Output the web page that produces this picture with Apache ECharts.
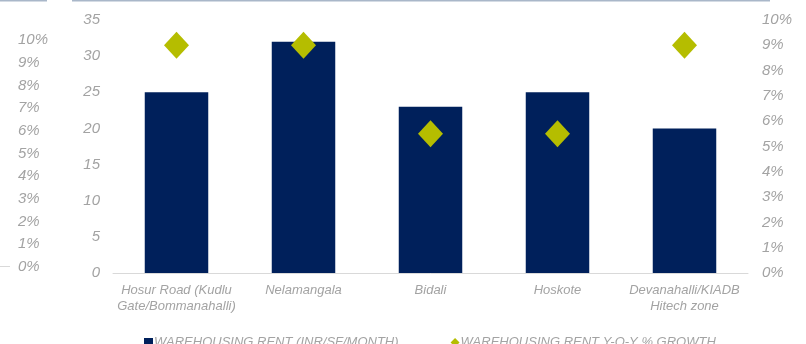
<!DOCTYPE html>
<html><head><meta charset="utf-8">
<script src="https://cdn.jsdelivr.net/npm/echarts@6/dist/echarts.min.js"></script>
<style>html,body{margin:0;padding:0;background:#fff}#c{width:806px;height:344px}</style>
</head><body><div id="c"></div>
<script>
var categories = ['Hosur Road (Kudlu\nGate/Bommanahalli)', 'Nelamangala', 'Bidali', 'Hoskote', 'Devanahalli/KIADB\nHitech zone'];
var rentValues = [25, 32, 23, 25, 20];
var growthValues = [9, 9, 5.5, 5.5, 9];
var rentName = 'WAREHOUSING RENT (INR/SF/MONTH)';
var growthName = 'WAREHOUSING RENT Y-O-Y % GROWTH';

var grey = '#a3a3a3';
var font = '"Liberation Sans"';
var chart = echarts.init(document.getElementById('c'));
chart.setOption({
  animation: false,
  grid: [
    {left: 113, right: 58, top: 20, bottom: 71},
    {left: 18, width: 2, top: 40, bottom: 77}
  ],
  graphic: [
    {type: 'line', shape: {x1: 0, y1: 0.5, x2: 47, y2: 0.5}, style: {stroke: '#a9b7c9', lineWidth: 2}},
    {type: 'line', shape: {x1: 72, y1: 0.5, x2: 770, y2: 0.5}, style: {stroke: '#a9b7c9', lineWidth: 2}},
    {type: 'line', shape: {x1: 0, y1: 266.5, x2: 10, y2: 266.5}, style: {stroke: '#d9d9d9', lineWidth: 1}}
  ],
  xAxis: [
    {type: 'category', gridIndex: 0, data: categories,
     axisLine: {show: true, lineStyle: {color: '#d9d9d9', width: 1}},
     axisTick: {show: false},
     axisLabel: {color: grey, fontStyle: 'italic', fontFamily: font, fontSize: 13, margin: 9, lineHeight: 16, interval: 0}},
    {type: 'category', gridIndex: 1, data: [''], show: false}
  ],
  yAxis: [
    {type: 'value', gridIndex: 0, min: 0, max: 35, interval: 5,
     splitLine: {show: false}, axisLine: {show: false}, axisTick: {show: false},
     axisLabel: {color: grey, fontStyle: 'italic', fontFamily: font, fontSize: 15, margin: 13}},
    {type: 'value', gridIndex: 0, min: 0, max: 10, interval: 1, position: 'right',
     splitLine: {show: false}, axisLine: {show: false}, axisTick: {show: false},
     axisLabel: {color: grey, fontStyle: 'italic', fontFamily: font, fontSize: 15, margin: 14, formatter: '{value}%'}},
    {type: 'value', gridIndex: 1, min: 0, max: 10, interval: 1, position: 'left',
     splitLine: {show: false}, axisLine: {show: false}, axisTick: {show: false},
     axisLabel: {color: grey, fontStyle: 'italic', fontFamily: font, fontSize: 15, margin: 0, align: 'left', formatter: '{value}%'}}
  ],
  legend: {
    left: 139, top: 331, itemWidth: 9, itemHeight: 9, itemGap: 52, itemStyle: {borderWidth: 0},
    textStyle: {color: grey, fontStyle: 'italic', fontFamily: font, fontSize: 13, padding: [0,0,0,-4]},
    data: [{name: rentName, icon: 'rect'}, {name: growthName, icon: 'diamond'}]
  },
  series: [
    {name: rentName, type: 'bar', data: rentValues, barWidth: '50%', xAxisIndex: 0, yAxisIndex: 0,
     itemStyle: {color: '#00205b'}},
    {name: growthName, type: 'scatter', data: growthValues, xAxisIndex: 0, yAxisIndex: 1,
     symbol: 'diamond', symbolSize: [25, 27], itemStyle: {color: '#b5bd00', opacity: 1}}
  ]
});
</script></body></html>
